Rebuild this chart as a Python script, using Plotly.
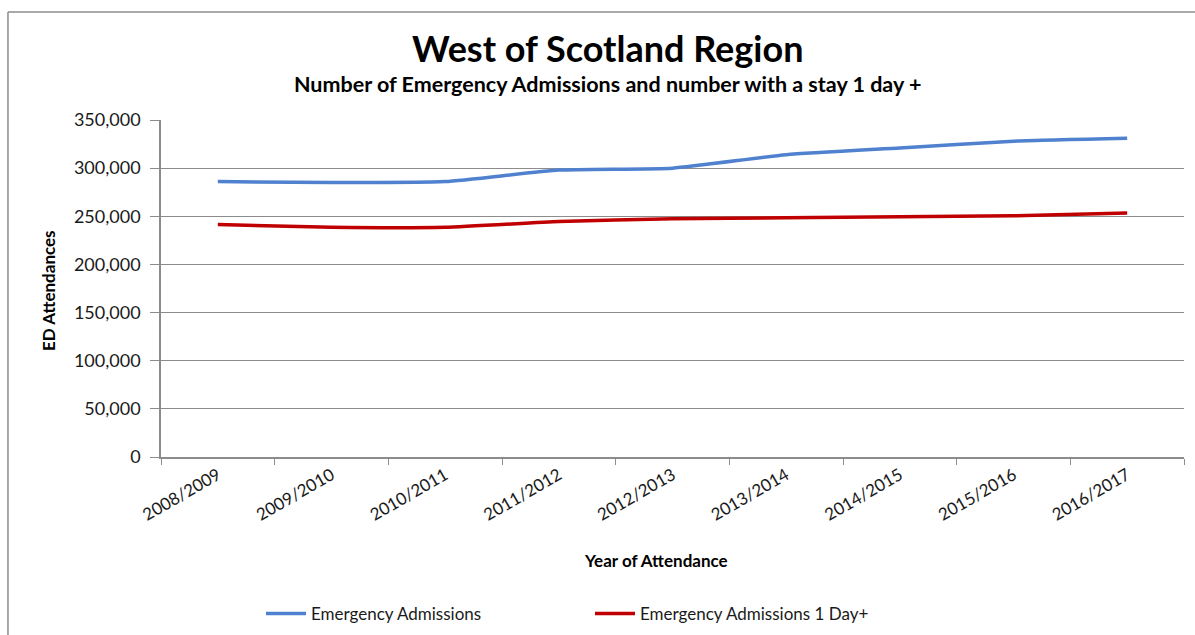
import plotly.graph_objects as go

years = ['2008/2009', '2009/2010', '2010/2011', '2011/2012', '2012/2013',
         '2013/2014', '2014/2015', '2015/2016', '2016/2017']
emergency = [286000, 285000, 286000, 298000, 300000, 314000, 321000, 328000, 331000]
emergency_1day = [241500, 238500, 238500, 244500, 247500, 248500, 249500, 250500, 253500]
y_ticks = [0, 50000, 100000, 150000, 200000, 250000, 300000, 350000]

FONT = 'Lato'
TXT = '#1a1a1a'
GREY = '#8c8c8c'

fig = go.Figure()
fig.add_trace(go.Scatter(
    x=years, y=emergency, name='Emergency Admissions', mode='lines', legend='legend',
    line=dict(color='#4F81CF', width=3.5, shape='spline', smoothing=0.5)
))
fig.add_trace(go.Scatter(
    x=years, y=emergency_1day, name='Emergency Admissions 1 Day+', mode='lines', legend='legend2',
    line=dict(color='#C00000', width=3.5, shape='spline', smoothing=0.5)
))

leg_common = dict(orientation='h', yanchor='middle', y=-0.466, xanchor='left',
                  font=dict(size=17, color=TXT), itemwidth=40, bgcolor='rgba(0,0,0,0)')

fig.update_layout(
    width=1195, height=635,
    margin=dict(l=161, r=11, t=120, b=178, autoexpand=False),
    paper_bgcolor='white', plot_bgcolor='white',
    font=dict(family=FONT, color=TXT),
    showlegend=True,
    legend=dict(x=(261 - 161) / 1023, **leg_common),
    legend2=dict(x=(590 - 161) / 1023, **leg_common),
    annotations=[
        dict(text='<b>West of Scotland Region</b>', x=(607 - 161) / 1023, y=1.2136,
             xref='paper', yref='paper', xanchor='center', yanchor='middle', showarrow=False,
             font=dict(size=36, color='black')),
        dict(text='<b>Number of Emergency Admissions and number with a stay 1 day +</b>',
             x=(607 - 161) / 1023, y=1.1068, xref='paper', yref='paper', xanchor='center',
             yanchor='middle', showarrow=False, font=dict(size=21.5, color='black')),
        dict(text='<b>Year of Attendance</b>', x=(656 - 161) / 1023, y=-0.3086, xref='paper',
             yref='paper', xanchor='center', yanchor='middle', showarrow=False,
             font=dict(size=17, color='black')),
        dict(text='<b>ED Attendances</b>', x=-0.1105, y=0.4955, xref='paper', yref='paper',
             xanchor='center', yanchor='middle', showarrow=False, textangle=-90,
             font=dict(size=17, color='black')),
    ],
    shapes=[
        dict(type='line', xref='paper', yref='paper', x0=-0.1496, x1=1.02, y0=1.3205, y1=1.3205,
             line=dict(color=GREY, width=1.5)),
        dict(type='line', xref='paper', yref='paper', x0=-0.1496, x1=-0.1496, y0=1.3205, y1=-0.6,
             line=dict(color=GREY, width=1.5)),
    ],
)

fig.update_xaxes(
    type='category', tickson='boundaries', ticks='outside', ticklen=6, tickcolor=GREY,
    tickangle=-30, tickfont=dict(size=17, color=TXT), showgrid=False,
    showline=True, linecolor=GREY, linewidth=1.5, range=[-0.5, 8.5], automargin=False
)
fig.update_yaxes(
    range=[0, 350000], tickvals=y_ticks, tickformat=',d', ticks='outside', ticklen=9,
    tickcolor=GREY, tickfont=dict(size=18, color=TXT), showgrid=True, ticklabelstandoff=6,
    gridcolor=GREY, gridwidth=1, showline=True, linecolor=GREY, linewidth=1.5,
    zeroline=False, automargin=False
)

fig.write_html('out.html', config={'displayModeBar': False},
               post_script="document.body.style.margin='0';")
